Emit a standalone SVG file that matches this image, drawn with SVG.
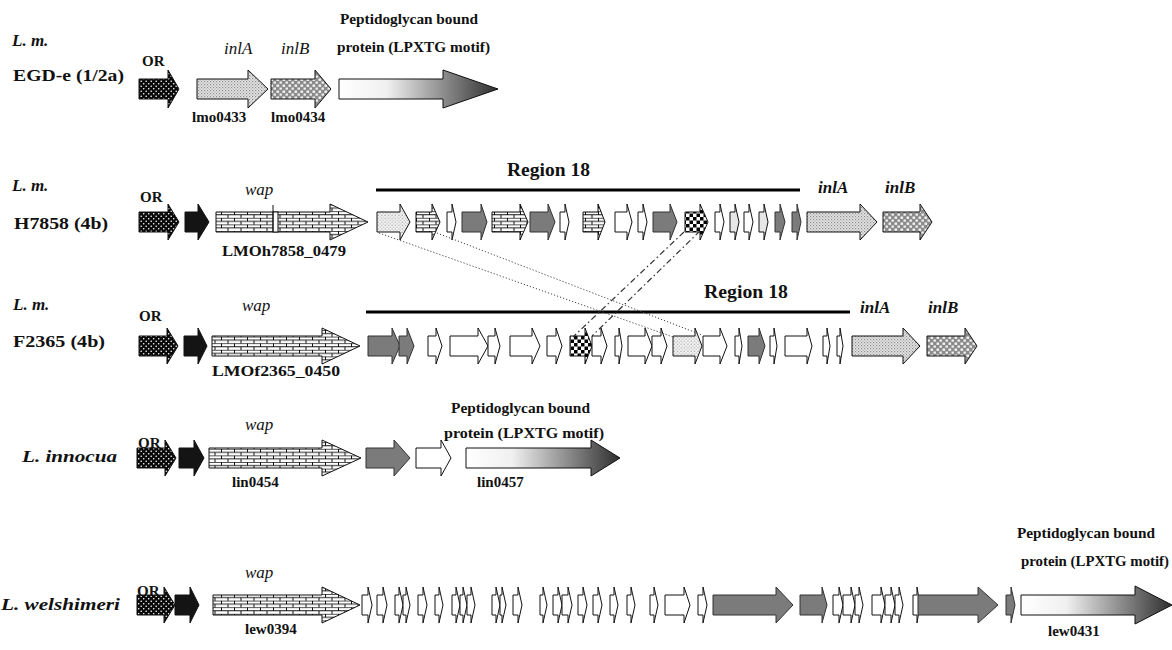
<svg xmlns="http://www.w3.org/2000/svg" width="1172" height="650" viewBox="0 0 1172 650">
<defs>
<pattern id="pOR" width="5" height="5" patternUnits="userSpaceOnUse"><rect width="5" height="5" fill="#0a0a0a"/><circle cx="1.2" cy="1.2" r="0.8" fill="#fff"/><circle cx="3.7" cy="3.7" r="0.8" fill="#fff"/></pattern>
<pattern id="pInlA" width="3" height="3" patternUnits="userSpaceOnUse"><rect width="3" height="3" fill="#e4e4e4"/><rect x="0" y="0" width="1.2" height="1.2" fill="#8c8c8c"/><rect x="1.5" y="1.5" width="1.2" height="1.2" fill="#a8a8a8"/></pattern>
<pattern id="pInlB" width="6" height="6" patternUnits="userSpaceOnUse"><rect width="6" height="6" fill="#8a8a8a"/><rect x="0.5" y="0.5" width="2.6" height="2.4" fill="#f2f2f2"/><rect x="3.5" y="3.5" width="2.4" height="2.2" fill="#f2f2f2"/></pattern>
<pattern id="pBrick" width="13" height="6.6" patternUnits="userSpaceOnUse"><rect width="13" height="6.6" fill="#fff"/><path d="M0 0.3H13M0 3.6H13M0.5 0.3V3.6M7 3.6V6.6" stroke="#222" stroke-width="0.9" fill="none"/></pattern>
<pattern id="pDot" width="3.4" height="3.4" patternUnits="userSpaceOnUse"><rect width="3.4" height="3.4" fill="#f4f4f4"/><circle cx="1" cy="1" r="0.55" fill="#777"/><circle cx="2.7" cy="2.7" r="0.55" fill="#999"/></pattern>
<pattern id="pChk" width="7" height="7" patternUnits="userSpaceOnUse"><rect width="7" height="7" fill="#fff"/><rect width="3.5" height="3.5" fill="#000"/><rect x="3.5" y="3.5" width="3.5" height="3.5" fill="#000"/></pattern>
<linearGradient id="gLpx" x1="0" y1="0" x2="1" y2="0"><stop offset="0" stop-color="#ffffff"/><stop offset="0.3" stop-color="#f0f0f0"/><stop offset="1" stop-color="#2e2e2e"/></linearGradient>
</defs>
<style>
path{stroke:#111;stroke-width:1;stroke-linejoin:miter}
.or{fill:url(#pOR)}
.blk{fill:#141414}
.brick{fill:url(#pBrick)}
.gray{fill:#7b7b7b;stroke:#333}
.wht{fill:#fff}
.lgr{fill:#e6e6e6}
.dot{fill:url(#pDot)}
.chk{fill:url(#pChk)}
.inla{fill:url(#pInlA)}
.inlb{fill:url(#pInlB)}
.lpx{fill:url(#gLpx)}
text{font-family:"Liberation Serif","Times New Roman",serif;fill:#111}
.sp{font-size:17px;font-weight:bold;font-style:italic}
.st{font-size:17px;font-weight:bold}
.or-t{font-size:15px;font-weight:bold}
.gn{font-size:17px;font-style:italic}
.gnb{font-size:17px;font-style:italic;font-weight:bold}
.tag{font-size:15px;font-weight:bold}
.pep{font-size:14px;font-weight:bold}
.reg{font-size:18px;font-weight:bold}
.rline{stroke:#000;stroke-width:3}
.c-dot{stroke:#444;stroke-width:1;stroke-dasharray:1.2 2;fill:none}
.c-dd{stroke:#333;stroke-width:1.2;stroke-dasharray:6 3 1.5 3;fill:none}
</style>

<!-- Row 1: EGD-e -->
<g id="row1-label"><text class="sp" x="12" y="46">L. m.</text><text class="st" x="13" y="81" textLength="111" lengthAdjust="spacingAndGlyphs">EGD-e (1/2a)</text></g>
<g id="r1-or"><path class="or" d="M139 79H168V70L179 89L168 108V99H139Z"/><text class="or-t" x="142" y="66">OR</text></g>
<g id="r1-inlA"><path class="inla" d="M197 79H248V70L268 89L248 108V99H197Z"/><text class="gn" x="224" y="54">inlA</text><text class="tag" x="192" y="122">lmo0433</text></g>
<g id="r1-inlB"><path class="inlb" d="M271 79H315V70L331 89L315 108V99H271Z"/><text class="gn" x="281" y="54">inlB</text><text class="tag" x="271" y="122">lmo0434</text></g>
<g id="r1-lpxtg"><path class="lpx" d="M339 79H443V70L498 89L443 108V99H339Z"/><text class="pep" x="340" y="24" textLength="138" lengthAdjust="spacingAndGlyphs">Peptidoglycan  bound</text><text class="pep" x="337" y="52" textLength="153" lengthAdjust="spacingAndGlyphs">protein (LPXTG motif)</text></g>

<!-- Row 2: H7858 -->
<g id="row2-label"><text class="sp" x="12" y="191">L. m.</text><text class="st" x="14" y="229" textLength="94" lengthAdjust="spacingAndGlyphs">H7858 (4b)</text></g>
<g id="r2-or"><path class="or" d="M139 212H168V204L179 222L168 240V232H139Z"/><text class="or-t" x="140" y="202">OR</text></g>
<g id="r2-g2"><path class="blk" d="M185 212H198V204L209 222L198 240V232H185Z"/></g>
<g id="r2-wap"><path class="brick" d="M216 212H330V204L368 222L330 240V232H216Z"/><rect x="273" y="212" width="5" height="20" fill="#fff" stroke="#111"/><path d="M273 205V232" fill="none"/><text class="gn" x="245" y="195">wap</text><text class="tag" x="222" y="256" textLength="124" lengthAdjust="spacingAndGlyphs">LMOh7858_0479</text></g>
<g id="r2-region18"><path class="rline" d="M376 190H800"/><text class="reg" x="507" y="176" textLength="83" lengthAdjust="spacingAndGlyphs">Region 18</text>
<path class="dot" d="M377 212H400V204L410 222L400 240V232H377Z"/>
<path class="brick" d="M416 212H432V204L440 222L432 240V232H416Z"/>
<path class="wht" d="M447 212H452V204L456 222L452 240V232H447Z"/>
<path class="gray" d="M462 212H481V204L487 222L481 240V232H462Z"/>
<path class="brick" d="M492 212H520V204L528 222L520 240V232H492Z"/>
<path class="gray" d="M530 212H548V204L555 222L548 240V232H530Z"/>
<path class="wht" d="M560 212H565V204L569 222L565 240V232H560Z"/>
<path class="brick" d="M583 212H598V204L605 222L598 240V232H583Z"/>
<path class="wht" d="M615 212H627V204L632 222L627 240V232H615Z"/>
<path class="wht" d="M638 212H643V204L647 222L643 240V232H638Z"/>
<path class="gray" d="M653 212H670V204L677 222L670 240V232H653Z"/>
<path class="chk" d="M685 212H700V204L708 222L700 240V232H685Z"/>
<path class="wht" d="M715 212H720V204L724 222L720 240V232H715Z"/>
<path class="lgr" d="M730 212H735V204L739 222L735 240V232H730Z"/>
<path class="wht" d="M744 212H749V204L753 222L749 240V232H744Z"/>
<path class="lgr" d="M759 212H764V204L768 222L764 240V232H759Z"/>
<path class="gray" d="M775 212H780V204L785 222L780 240V232H775Z"/>
<path class="gray" d="M792 212H797V204L801 222L797 240V232H792Z"/>
</g>
<g id="r2-inlA"><path class="inla" d="M807 212H860V204L877 222L860 240V232H807Z"/><text class="gnb" x="818" y="193">inlA</text></g>
<g id="r2-inlB"><path class="inlb" d="M883 212H920V204L932 222L920 240V232H883Z"/><text class="gnb" x="885" y="193">inlB</text></g>

<!-- Row 3: F2365 -->
<g id="row3-label"><text class="sp" x="13" y="310">L. m.</text><text class="st" x="13" y="347" textLength="92" lengthAdjust="spacingAndGlyphs">F2365 (4b)</text></g>
<g id="r3-or"><path class="or" d="M139 336H167V328L178 346L167 364V356H139Z"/><text class="or-t" x="139" y="321">OR</text></g>
<g id="r3-g2"><path class="blk" d="M184 336H198V328L207 346L198 364V356H184Z"/></g>
<g id="r3-wap"><path class="brick" d="M212 336H322V328L360 346L322 364V356H212Z"/><text class="gn" x="242" y="311">wap</text><text class="tag" x="212" y="376" textLength="128" lengthAdjust="spacingAndGlyphs">LMOf2365_0450</text></g>
<g id="r3-region18"><path class="rline" d="M366 312H850"/><text class="reg" x="704" y="298" textLength="84" lengthAdjust="spacingAndGlyphs">Region 18</text>
<path class="gray" d="M368 336H392V328L400 346L392 364V356H368Z"/>
<path class="gray" d="M399 336H407V328L414 346L407 364V356H399Z"/>
<path class="wht" d="M428 336H436V328L442 346L436 364V356H428Z"/>
<path class="wht" d="M450 336H478V328L488 346L478 364V356H450Z"/>
<path class="wht" d="M488 336H495V328L500 346L495 364V356H488Z"/>
<path class="wht" d="M510 336H532V328L540 346L532 364V356H510Z"/>
<path class="wht" d="M547 336H556V328L562 346L556 364V356H547Z"/>
<path class="chk" d="M570 336H585V328L592 346L585 364V356H570Z"/>
<path class="wht" d="M592 336H601V328L607 346L601 364V356H592Z"/>
<path class="wht" d="M615 336H619V328L622 346L619 364V356H615Z"/>
<path class="wht" d="M628 336H645V328L652 346L645 364V356H628Z"/>
<path class="wht" d="M652 336H661V328L667 346L661 364V356H652Z"/>
<path class="dot" d="M673 336H695V328L702 346L695 364V356H673Z"/>
<path class="wht" d="M703 336H720V328L727 346L720 364V356H703Z"/>
<path class="wht" d="M735 336H739V328L742 346L739 364V356H735Z"/>
<path class="gray" d="M748 336H759V328L765 346L759 364V356H748Z"/>
<path class="wht" d="M770 336H774V328L777 346L774 364V356H770Z"/>
<path class="wht" d="M785 336H807V328L812 346L807 364V356H785Z"/>
<path class="wht" d="M823 336H827V328L830 346L827 364V356H823Z"/>
<path class="wht" d="M837 336H840V328L843 346L840 364V356H837Z"/>
</g>
<g id="r3-inlA"><path class="inla" d="M852 336H903V328L920 346L903 364V356H852Z"/><text class="gnb" x="860" y="313">inlA</text></g>
<g id="r3-inlB"><path class="inlb" d="M927 336H965V328L977 346L965 364V356H927Z"/><text class="gnb" x="928" y="313">inlB</text></g>

<!-- Row 4: L. innocua -->
<g id="row4-label"><text class="sp" x="22" y="462" textLength="95" lengthAdjust="spacingAndGlyphs">L. innocua</text></g>
<g id="r4-or"><path class="or" d="M137 448H165V440L176 458L165 476V468H137Z"/><text class="or-t" x="138" y="448">OR</text></g>
<g id="r4-g2"><path class="blk" d="M179 448H194V440L204 458L194 476V468H179Z"/></g>
<g id="r4-wap"><path class="brick" d="M209 448H322V440L361 458L322 476V468H209Z"/><text class="gn" x="245" y="430">wap</text><text class="tag" x="232" y="487">lin0454</text></g>
<g id="r4-g4"><path class="gray" d="M366 448H394V440L410 458L394 476V468H366Z"/></g>
<g id="r4-g5"><path class="wht" d="M416 448H441V440L451 458L441 476V468H416Z"/></g>
<g id="r4-lpxtg"><path class="lpx" d="M466 448H591V440L620 458L591 476V468H466Z"/><text class="pep" x="451" y="413" textLength="139" lengthAdjust="spacingAndGlyphs">Peptidoglycan  bound</text><text class="pep" x="444" y="438" textLength="160" lengthAdjust="spacingAndGlyphs">protein (LPXTG motif)</text><text class="tag" x="477" y="487">lin0457</text></g>

<!-- Row 5: L. welshimeri -->
<g id="row5-label"><text class="sp" x="1" y="610" textLength="119" lengthAdjust="spacingAndGlyphs">L. welshimeri</text></g>
<g id="r5-or"><path class="or" d="M137 595H164V587L175 605L164 623V615H137Z"/><text class="or-t" x="137" y="596">OR</text></g>
<g id="r5-g2"><path class="blk" d="M175 595H190V587L199 605L190 623V615H175Z"/></g>
<g id="r5-wap"><path class="brick" d="M213 595H322V587L360 605L322 623V615H213Z"/><text class="gn" x="245" y="578">wap</text><text class="tag" x="245" y="634">lew0394</text></g>
<g id="r5-cluster">
<path class="wht" d="M362 595H368V587L372 605L368 623V615H362Z"/>
<path class="wht" d="M377 595H383V587L387 605L383 623V615H377Z"/>
<path class="wht" d="M395 595H399V587L403 605L399 623V615H395Z"/>
<path class="wht" d="M403 595H406V587L410 605L406 623V615H403Z"/>
<path class="wht" d="M418 595H423V587L427 605L423 623V615H418Z"/>
<path class="wht" d="M435 595H439V587L443 605L439 623V615H435Z"/>
<path class="wht" d="M452 595H456V587L460 605L456 623V615H452Z"/>
<path class="wht" d="M460 595H463V587L467 605L463 623V615H460Z"/>
<path class="wht" d="M467 595H471V587L475 605L471 623V615H467Z"/>
<path class="wht" d="M492 595H496V587L500 605L496 623V615H492Z"/>
<path class="wht" d="M500 595H502V587L506 605L502 623V615H500Z"/>
<path class="wht" d="M513 595H518V587L522 605L518 623V615H513Z"/>
<path class="wht" d="M540 595H543V587L547 605L543 623V615H540Z"/>
<path class="wht" d="M553 595H558V587L562 605L558 623V615H553Z"/>
<path class="wht" d="M562 595H568V587L572 605L568 623V615H562Z"/>
<path class="wht" d="M578 595H583V587L587 605L583 623V615H578Z"/>
<path class="wht" d="M593 595H598V587L602 605L598 623V615H593Z"/>
<path class="wht" d="M610 595H614V587L618 605L614 623V615H610Z"/>
<path class="wht" d="M627 595H631V587L635 605L631 623V615H627Z"/>
<path class="wht" d="M650 595H654V587L658 605L654 623V615H650Z"/>
<path class="wht" d="M665 595H684V587L690 605L684 623V615H665Z"/>
<path class="wht" d="M698 595H703V587L707 605L703 623V615H698Z"/>
</g>
<g id="r5-gray1"><path class="gray" d="M713 595H776V587L793 605L776 623V615H713Z"/></g>
<g id="r5-gray2"><path class="gray" d="M800 595H822V587L827 605L822 623V615H800Z"/></g>
<g id="r5-cluster2">
<path class="wht" d="M833 595H839V587L843 605L839 623V615H833Z"/>
<path class="wht" d="M843 595H851V587L855 605L851 623V615H843Z"/>
<path class="wht" d="M855 595H859V587L863 605L859 623V615H855Z"/>
<path class="wht" d="M872 595H881V587L885 605L881 623V615H872Z"/>
<path class="wht" d="M885 595H891V587L895 605L891 623V615H885Z"/>
<path class="wht" d="M895 595H899V587L903 605L899 623V615H895Z"/>
<path class="wht" d="M913 595H917V587L920 605L917 623V615H913Z"/>
</g>
<g id="r5-gray3"><path class="gray" d="M918 595H978V587L998 605L978 623V615H918Z"/></g>
<g id="r5-gray4"><path class="gray" d="M1006 595H1011V587L1015 605L1011 623V615H1006Z"/></g>
<g id="r5-lpxtg"><path class="lpx" d="M1021 595H1135V586L1172 605L1135 624V615H1021Z"/><text class="pep" x="1017" y="538" textLength="138" lengthAdjust="spacingAndGlyphs">Peptidoglycan  bound</text><text class="pep" x="1021" y="566" textLength="148" lengthAdjust="spacingAndGlyphs">protein (LPXTG motif)</text><text class="tag" x="1048" y="636">lew0431</text></g>

<!-- Connectors -->
<g id="connectors">
<path class="c-dot" d="M379 233L673 337"/>
<path class="c-dot" d="M437 233L702 335"/>
<path class="c-dd" d="M684 232L573 337"/>
<path class="c-dd" d="M700 231L592 336"/>
</g>
</svg>
